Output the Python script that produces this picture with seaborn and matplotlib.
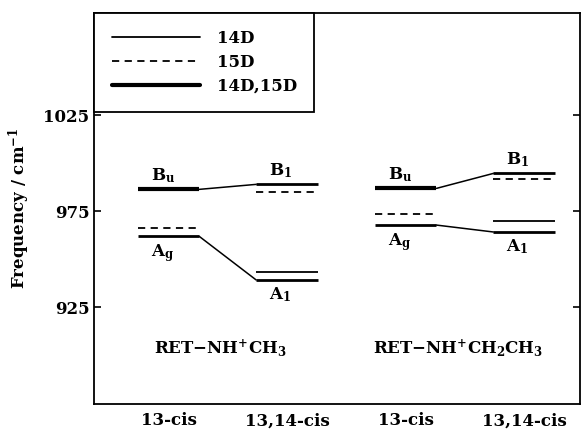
import matplotlib
matplotlib.use("Agg")
import matplotlib.pyplot as plt
from matplotlib.lines import Line2D
import seaborn as sns
import pandas as pd

# categories on the x axis (two molecules x two isomers)
categories = ['13-cis', '13,14-cis', '13-cis', '13,14-cis']
molecules = ['RET\u2212NH$^{+}$CH$_{3}$', 'RET\u2212NH$^{+}$CH$_{2}$CH$_{3}$']

# 13-cis levels (x = 0 and 2)
cis_bu_both = [986.3, 986.8]      # Bu, 14D,15D
cis_ag_both = [961.8, 967.7]      # Ag, 14D,15D
cis_ag_15d = [966.0, 973.4]       # Ag, 15D
# 13,14-cis levels (x = 1 and 3)
cis1314_b1_14d = [988.9, 994.6]   # B1, 14D
cis1314_b1_15d = [984.7, 991.5]   # B1, 15D
cis1314_a1_14d = [943.4, 969.8]   # A1, 14D
cis1314_a1_both = [939.1, 964.1]  # A1, 14D,15D

sns.set_theme(style="ticks")
plt.rcParams['font.family'] = ['DejaVu Serif']
plt.rcParams['font.weight'] = 'bold'
plt.rcParams['mathtext.fontset'] = 'dejavuserif'
plt.rcParams['mathtext.default'] = 'bf'
for k in ['text.color', 'axes.labelcolor', 'xtick.color', 'ytick.color', 'axes.edgecolor']:
    plt.rcParams[k] = 'black'

fig = plt.figure(figsize=(5.81, 4.33), dpi=100)
ax = fig.add_axes([0.162, 0.067, 0.836, 0.904])

hw = 0.26
thin, thick, medium = 1.3, 3.0, 2.0

for i in range(2):
    x0, x1 = 2 * i, 2 * i + 1
    ax.hlines(cis_bu_both[i], x0 - hw, x0 + hw, color='black', lw=thick)
    ax.hlines(cis_ag_both[i], x0 - hw, x0 + hw, color='black', lw=medium)
    ax.hlines(cis_ag_15d[i], x0 - hw, x0 + hw, color='black', lw=thin, linestyles=(0, (4, 3)))
    ax.hlines(cis1314_b1_14d[i], x1 - hw, x1 + hw, color='black', lw=medium)
    ax.hlines(cis1314_b1_15d[i], x1 - hw, x1 + hw, color='black', lw=thin, linestyles=(0, (4, 3)))
    ax.hlines(cis1314_a1_14d[i], x1 - hw, x1 + hw, color='black', lw=thin)
    ax.hlines(cis1314_a1_both[i], x1 - hw, x1 + hw, color='black', lw=medium)

# connecting lines between correlated levels
rows = []
for i in range(2):
    x0, x1 = 2 * i, 2 * i + 1
    rows += [dict(u=f'b{i}', x=x0 + hw, y=cis_bu_both[i]),
             dict(u=f'b{i}', x=x1 - hw, y=cis1314_b1_14d[i]),
             dict(u=f'a{i}', x=x0 + hw, y=cis_ag_both[i]),
             dict(u=f'a{i}', x=x1 - hw, y=cis1314_a1_both[i])]
conn = pd.DataFrame(rows)
sns.lineplot(data=conn, x='x', y='y', units='u', estimator=None, color='black', lw=1.1, ax=ax)

# symmetry labels
fs = 12
for i in range(2):
    x0, x1 = 2 * i, 2 * i + 1
    ax.annotate('B$_{u}$', (x0, cis_bu_both[i]), xytext=(-4, 3), textcoords='offset points',
                ha='center', va='bottom', fontsize=fs)
    ax.annotate('A$_{g}$', (x0, cis_ag_both[i]), xytext=(-4, -4), textcoords='offset points',
                ha='center', va='top', fontsize=fs)
    ax.annotate('B$_{1}$', (x1, cis1314_b1_14d[i]), xytext=(-5, 3), textcoords='offset points',
                ha='center', va='bottom', fontsize=fs)
    ax.annotate('A$_{1}$', (x1, cis1314_a1_both[i]), xytext=(-5, -4), textcoords='offset points',
                ha='center', va='top', fontsize=fs)
    ax.text(x0 + 0.44, 903.5, molecules[i], ha='center', va='center', fontsize=fs)

ax.set_xlim(-0.627, 3.47)
ax.set_ylim(874.5, 1078.4)
ax.set_xticks(range(len(categories)))
ax.set_xticklabels(categories, fontsize=fs, fontweight='bold')
ax.set_yticks([925, 975, 1025])
ax.set_yticklabels(['925', '975', '1025'], fontsize=fs, fontweight='bold')
ax.tick_params(axis='x', length=0, pad=6)
ax.tick_params(axis='y', direction='in', length=5, width=1.2, right=True, left=True, labelright=False)
ax.set_ylabel('Frequency / cm$^{-1}$', fontsize=fs, fontweight='bold', labelpad=8)
ax.set_xlabel('')
for s in ax.spines.values():
    s.set_linewidth(1.3)
    s.set_color('black')

handles = [Line2D([], [], color='black', lw=thin),
           Line2D([], [], color='black', lw=thin, ls=(0, (4, 3))),
           Line2D([], [], color='black', lw=thick)]
leg = ax.legend(handles, ['14D', '15D', '14D,15D'], loc='upper left', bbox_to_anchor=(0, 1),
                borderaxespad=0, frameon=True, fancybox=False, handlelength=5.3,
                handletextpad=1.0, labelspacing=0.4, borderpad=1.05, prop=dict(size=fs, weight='bold'))
leg.get_frame().set_edgecolor('black')
leg.get_frame().set_linewidth(1.3)
leg.get_frame().set_alpha(1)

fig.savefig('out.png', dpi=100)
